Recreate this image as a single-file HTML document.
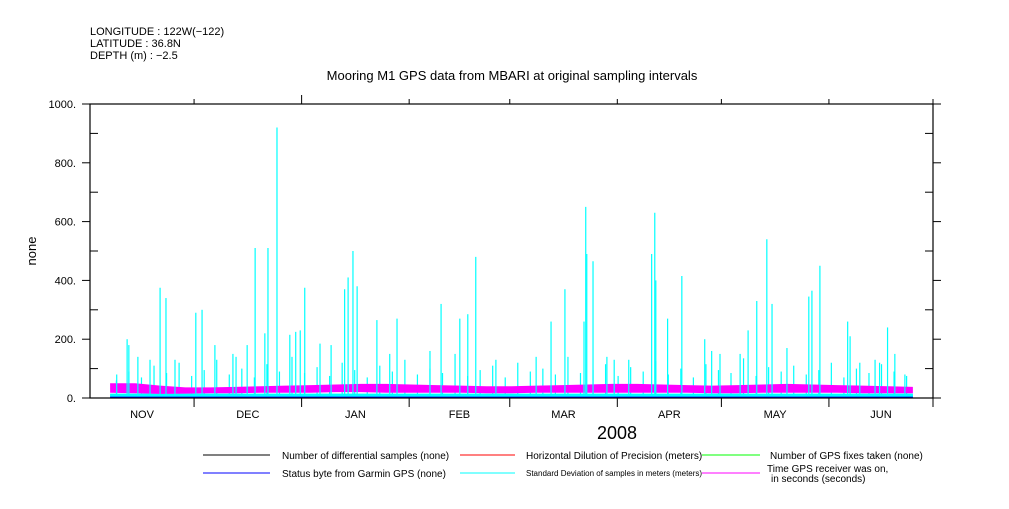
<!DOCTYPE html>
<html><head><meta charset="utf-8"><style>
body{margin:0;background:#fff;width:1009px;height:504px;overflow:hidden}
svg text{font-family:"Liberation Sans",sans-serif;fill:#000}
</style></head><body>
<svg id="chart" width="1009" height="504" viewBox="0 0 1009 504">
<g font-size="11">
<text x="90" y="35">LONGITUDE : 122W(−122)</text>
<text x="90" y="47">LATITUDE : 36.8N</text>
<text x="90" y="59">DEPTH (m) : −2.5</text>
</g>
<text x="512" y="80" font-size="13" text-anchor="middle">Mooring M1 GPS data from MBARI at original sampling intervals</text>
<text x="0" y="0" font-size="13" text-anchor="middle" transform="translate(36,251) rotate(-90)">none</text>
<text x="617" y="439" font-size="18" text-anchor="middle">2008</text>
<g id="plot"></g>
<g id="axes"></g>
<g font-size="10">
<line x1="203" y1="455" x2="270" y2="455" stroke="#000"/><text x="282" y="459">Number of differential samples (none)</text>
<line x1="460" y1="455" x2="515" y2="455" stroke="#f00"/><text x="526" y="459">Horizontal Dilution of Precision (meters)</text>
<line x1="702" y1="455" x2="760" y2="455" stroke="#0f0"/><text x="770" y="459">Number of GPS fixes taken (none)</text>
<line x1="203" y1="473" x2="270" y2="473" stroke="#00f"/><text x="282" y="477">Status byte from Garmin GPS (none)</text>
<line x1="460" y1="473" x2="515" y2="473" stroke="#0ff"/><text x="526" y="476" font-size="8">Standard Deviation of samples in meters (meters)</text>
<line x1="702" y1="473" x2="760" y2="473" stroke="#f0f"/><text x="767" y="472">Time GPS receiver was on,</text><text x="771" y="482">in seconds (seconds)</text>
</g>
</svg>
<script>
// days since Nov 1 2007
const spikeDays=[7.7,10.7,11.2,13.8,17.3,20.2,21.9,24.5,30.5,32.3,36,41.2,42.1,45.3,47.6,50.4,51.3,53.9,57.6,59.3,60.6,61.9,66.3,69.5,73.4,74.4,75.8,77,82.7,86.4,88.5,98,101.2,106.6,108.9,111.2,117,128.6,132.9,136.9,142.4,142.9,143.2,145,149,151.1,155.3,161.9,162.8,163.1,166.5,170.6,177.2,179.2,181.6,187.4,189.7,192.2,195.1,196.6,200.9,207.2,208.1,210.4,218.4,219.1,221.9,226.3,227.6,229.9,232,234.9];
const spikeVals=[80,200,180,140,130,375,340,130,290,300,180,150,140,180,510,220,510,920,215,225,230,375,185,180,370,410,500,380,265,150,270,160,320,270,285,480,130,140,260,370,260,650,490,465,140,130,130,490,630,400,270,415,200,160,150,150,230,330,540,320,170,345,365,450,260,210,120,130,120,240,150,80];
const minorVals=[60,90,70,110,85,120,75,95,130,80,100,70,115,90,140,85,105,75,120,95,70,110,90,130,80,100,85,150,75,95,110,70,120,90,100,80,140,85,95,115,75,105,90,125,80,100,70,115,95,85,135,75,105,90,110,80,95,120,70,100,85,115,90,75];
const bandTop=[50,50,42,36,36,38,40,42,44,46,48,48,46,44,42,40,40,42,44,46,48,48,46,44,42,44,46,48,46,44,42,40,38];
const bandBot=[18,16,14,15,16,16,18,18,18,20,20,18,18,18,18,16,16,18,18,18,18,18,18,18,16,16,18,18,18,18,16,16,16];
const yTicks=[0,200,400,600,800,1000];
const months=["NOV","DEC","JAN","FEB","MAR","APR","MAY","JUN"];
const monthEndDays=[30,61,92,121,152,182,213,243];
const dataStart=5.8,dataEnd=237.2;
const X0=90,X1=933,Y0=398,Y1=104,PPD=(933-90)/243;
const x=d=>X0+d*PPD, y=v=>Y0-(v/1000)*(Y0-Y1);
const NS="http://www.w3.org/2000/svg";
const plot=document.getElementById('plot'),axes=document.getElementById('axes');
function mk(p,tag,a){const e=document.createElementNS(NS,tag);for(const k in a)e.setAttribute(k,a[k]);p.appendChild(e);return e;}
let r=mk(plot,'rect',{x:x(dataStart),y:y(15),width:x(dataEnd)-x(dataStart),height:y(0)-y(15),fill:'#0ff'});


const step=(dataEnd-dataStart)/minorVals.length;
minorVals.forEach((v,i)=>{const d=dataStart+step*(i+0.5);
const l=mk(plot,'line',{x1:x(d),x2:x(d),y1:y(0),y2:y(v),stroke:'#0ff','stroke-width':1.2});

});
const bstep=(dataEnd-dataStart)/(bandTop.length-1);
let pts=bandTop.map((v,i)=>x(dataStart+i*bstep)+','+y(v));
pts=pts.concat(bandBot.map((v,i)=>x(dataStart+i*bstep)+','+y(v)).reverse());
const pg=mk(plot,'polygon',{points:pts.join(' '),fill:'#f0f'});


const cb=mk(plot,'rect',{x:x(dataStart),y:y(12),width:x(dataEnd)-x(dataStart),height:y(2)-y(12),fill:'#0ff'});


spikeDays.forEach((d,i)=>{const l=mk(plot,'line',{x1:x(d),x2:x(d),y1:y(0),y2:y(spikeVals[i]),stroke:'#0ff','stroke-width':1.2});

});
const bl=mk(plot,'line',{x1:x(dataStart),x2:x(dataEnd),y1:y(2),y2:y(2),stroke:'#00f','stroke-width':1.5});


const fr=mk(axes,'rect',{x:X0,y:Y1,width:X1-X0,height:Y0-Y1,fill:'none',stroke:'#000','stroke-width':1.2});


for(let v=0;v<=1000;v+=100){const major=v%200===0;
mk(axes,'line',{x1:X0-(major?8:0),x2:X0+(major?0:8),y1:y(v),y2:y(v),stroke:'#000'});
mk(axes,'line',{x1:X1-(major?0:8),x2:X1+(major?8:0),y1:y(v),y2:y(v),stroke:'#000'});}
yTicks.forEach(v=>{const t=mk(axes,'text',{x:X0-14,y:y(v)+4,'text-anchor':'end','font-size':11});t.textContent=v+'.';

});
monthEndDays.forEach((d,i)=>{const xx=x(d);
mk(axes,'line',{x1:xx,x2:xx,y1:Y0,y2:Y0+9,stroke:'#000'});
mk(axes,'line',{x1:xx,x2:xx,y1:Y1,y2:Y1-(i==1?9:5),stroke:'#000'});});
months.forEach((m,i)=>{const s=i==0?0:monthEndDays[i-1];const e=monthEndDays[i];
const t=mk(axes,'text',{x:x((s+e)/2),y:418,'text-anchor':'middle','font-size':11});t.textContent=m;

});
</script>
</body></html>
